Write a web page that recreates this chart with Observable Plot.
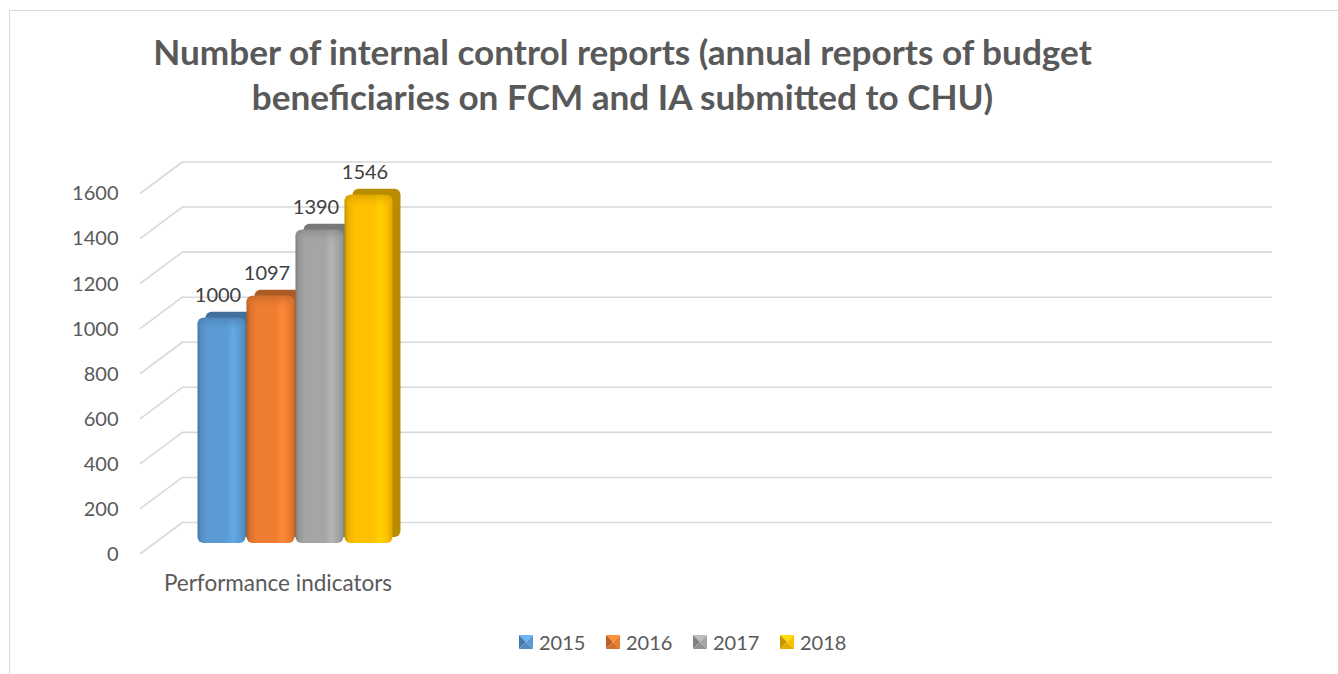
<!DOCTYPE html>
<html>
<head>
<meta charset="utf-8">
<script src="https://cdn.jsdelivr.net/npm/d3@7"></script>
<script src="https://cdn.jsdelivr.net/npm/@observablehq/plot@0.6"></script>
<style>
  html, body { margin: 0; padding: 0; background: #fff; width: 1338px; height: 674px; overflow: hidden; }
  #wrap { position: relative; width: 1338px; height: 674px; font-family: Lato, "Open Sans", sans-serif; }
  #frame { position: absolute; left: 9px; top: 10px; width: 1400px; height: 700px; border-left: 1.5px solid #d9d9d9; border-top: 1.5px solid #d9d9d9; }
  #head { position: absolute; left: 0; top: 0; }
  #chart { position: absolute; left: 0; top: 140px; }
  #legend { position: absolute; left: 0; top: 610px; }
</style>
</head>
<body>
<div id="wrap">
  <div id="frame"></div>
  <div id="head"></div>
  <div id="chart"></div>
  <div id="legend"></div>
</div>
<script>
// ---- data ----
const titleLines = ["Number of internal control reports (annual reports of budget", "beneficiaries on FCM and IA submitted to CHU)"];
const category = "Performance indicators";
const years = ["2015", "2016", "2017", "2018"];
const values = [1000, 1097, 1390, 1546];
const yTicks = [0, 200, 400, 600, 800, 1000, 1200, 1400, 1600];
const colors = ["#5B9BD5", "#ED7D31", "#A5A5A5", "#FFC000"];

const data = years.map((year, i) => ({year, value: values[i], color: colors[i]}));
const FONT = "Lato, 'Open Sans', sans-serif";
const W = 1338;

// ---- title ----
(function () {
  const ctx = document.createElement("canvas").getContext("2d");
  ctx.font = `bold 34px ${FONT}`;
  const w = ctx.measureText(titleLines[0]).width;
  const size = 34 * 941 / w;
  const svg = d3.create("svg").attr("width", W).attr("height", 140);
  svg.selectAll("text").data(titleLines).join("text")
    .attr("x", 622.5).attr("y", (d, i) => 65 + i * 45)
    .attr("text-anchor", "middle").attr("fill", "#595959")
    .attr("font-family", FONT).attr("font-weight", "bold")
    .attr("font-size", size).text(d => d);
  document.getElementById("head").appendChild(svg.node());
})();

// ---- custom marks reading the library scales ----
function slantedGrid(index, scales, values, dims) {
  const g = d3.create("svg:g").attr("stroke", "#d9d9d9").attr("stroke-width", 1.6);
  for (const t of yTicks) {
    const y = scales.y(t);
    g.append("line")
      .attr("x1", dims.marginLeft - 43).attr("y1", y + 11)
      .attr("x2", dims.marginLeft).attr("y2", y - 21);
  }
  return g.node();
}
function categoryLabel(index, scales, values, dims) {
  const x = scales.x;
  const bw = x.bandwidth ? x.bandwidth() : 50;
  const cx = (x(years[0]) + x(years[years.length - 1]) + bw) / 2 - 17;
  const g = d3.create("svg:g");
  g.append("text").attr("x", cx).attr("y", scales.y(0) + 42)
    .attr("text-anchor", "middle").attr("dominant-baseline", "middle")
    .attr("fill", "#595959").attr("font-size", 22.5).attr("font-family", FONT)
    .text(category);
  return g.node();
}

const dark = c => d3.color(c).darker(0.9).formatHex();

const chart = Plot.plot({
  width: W,
  height: 470,
  marginTop: 42.5,
  marginBottom: 67,
  marginLeft: 183,
  marginRight: 66,
  style: {fontFamily: FONT, background: "transparent", overflow: "visible"},
  x: {type: "band", domain: years, range: [195, 394], padding: 0, axis: null},
  y: {domain: [0, 1600], axis: null},
  color: {type: "identity"},
  marks: [
    Plot.ruleY(yTicks, {y: d => d, dy: -21, stroke: "#d9d9d9", strokeWidth: 1.6}),
    slantedGrid,
    Plot.text(yTicks, {y: d => d, text: d => String(d), frameAnchor: "left", textAnchor: "end", dx: -65, dy: 11, fill: "#595959", fontSize: 20}),
    Plot.barY(data, {x: "year", y: "value", fill: d => dark(d.color), dx: 8, dy: -6, rx: 6, insetLeft: 0.5, insetRight: 0.5}),
    Plot.barY(data, {x: "year", y: "value", fill: d => `url(#g${d.year})`, rx: 6, insetLeft: 0.5, insetRight: 0.5}),
    Plot.barY(data, {x: "year", y1: "value", y2: "value", fill: d => `url(#cap${d.year})`, rx: 6, insetLeft: 0.5, insetRight: 0.5, insetBottom: -14}),
    Plot.text(data, {x: "year", y: "value", text: d => String(d.value), dy: -23, dx: -4, fill: "#404040", fontSize: 20}),
    categoryLabel
  ]
});

// gradients for the shaded 3D faces
const defs = d3.select(chart).insert("defs", ":first-child");
data.forEach(d => {
  const c = d3.color(d.color);
  const lg = defs.append("linearGradient").attr("id", `g${d.year}`).attr("x1", 0).attr("x2", 1).attr("y1", 0).attr("y2", 0);
  [[0, c.darker(0.8)], [0.07, c.darker(0.25)], [0.2, c], [0.6, c], [0.75, c.brighter(0.25)], [0.88, c], [1, c.darker(0.35)]]
    .forEach(([o, col]) => lg.append("stop").attr("offset", o).attr("stop-color", d3.color(col).formatHex()));
  const cg = defs.append("linearGradient").attr("id", `cap${d.year}`).attr("x1", 0).attr("x2", 0).attr("y1", 0).attr("y2", 1);
  cg.append("stop").attr("offset", 0).attr("stop-color", c.darker(0.6).formatHex()).attr("stop-opacity", 0.7);
  cg.append("stop").attr("offset", 1).attr("stop-color", c.formatHex()).attr("stop-opacity", 0);
});
document.getElementById("chart").appendChild(chart);

// ---- legend ----
(function () {
  const svg = d3.create("svg").attr("width", W).attr("height", 64);
  const item = svg.selectAll("g").data(data).join("g")
    .attr("transform", (d, i) => `translate(${519 + i * 87},25)`);
  const tri = [
    ["0,0 14,0 7,7", c => c.brighter(0.4)],
    ["0,0 7,7 0,14", c => c.darker(0.7)],
    ["14,0 14,14 7,7", c => c],
    ["0,14 7,7 14,14", c => c.darker(0.3)]
  ];
  tri.forEach(([pts, f]) => item.append("polygon").attr("points", pts).attr("fill", d => d3.color(f(d3.color(d.color))).formatHex()));
  item.append("text").attr("x", 20).attr("y", 14.5).attr("fill", "#595959")
    .attr("font-family", FONT).attr("font-size", 20).text(d => d.year);
  document.getElementById("legend").appendChild(svg.node());
})();
</script>
</body>
</html>
